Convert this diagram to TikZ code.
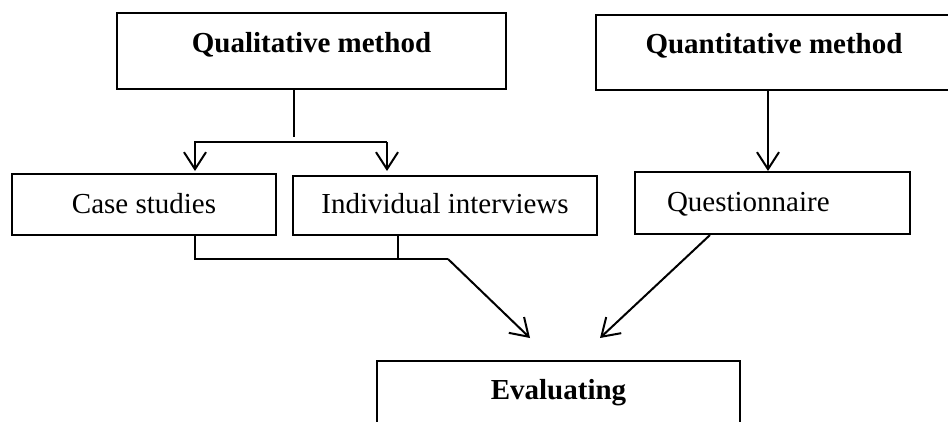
\documentclass[tikz,border=0pt]{standalone}
\usepackage{fontspec}
\setmainfont{Liberation Serif}
\usetikzlibrary{arrows.meta}
\tikzset{
  box/.style={draw, line width=2pt, inner xsep=0pt, inner ysep=0pt, font=\fontsize{29}{34}\selectfont},
  arr/.style={line width=2pt, -{Straight Barb[length=17pt,width=22pt,line width=2pt]}},
  ln/.style={line width=1.8pt}
}
\begin{document}
\begin{tikzpicture}[x=1pt,y=-1pt]
\useasboundingbox (0,0) rectangle (948,421);
\clip (0,0) rectangle (948,421);
\fill[white] (0,0) rectangle (948,421);
% boxes
\node[box, minimum width=389pt, text height=39pt, text depth=37pt] (qual) at (311.5,51) {\bfseries Qualitative method};
\node[box, minimum width=356pt, text height=38.5pt, text depth=37pt] (quant) at (774,52.25) {\bfseries Quantitative method};
\node[box, minimum width=264pt, text height=39pt, text depth=22pt] (case) at (144,204.5) {Case studies};
\node[box, minimum width=304pt, text height=37pt, text depth=22pt] (indiv) at (445,205.5) {Individual interviews};
\node[box, inner xsep=32pt, text width=211pt, align=left, text height=39pt, text depth=23pt] (quest) at (772.5,203) {Questionnaire};
\node[box, minimum width=363pt, text height=38pt, text depth=41pt] (eval) at (558.5,400.5) {\bfseries Evaluating};
% coordinates
\coordinate (qsplit) at (294,137);
\coordinate (qL) at (195,142);
\coordinate (qR) at (387,142);
\coordinate (tipCase) at (195,171);
\coordinate (tipIndiv) at (387,171);
\coordinate (bL) at (195,259);
\coordinate (bM) at (398,259);
\coordinate (bR) at (448,259);
\coordinate (tipEvalL) at (530,338);
\coordinate (tipEvalR) at (600,338);
\coordinate (qnSrc) at (768,90);
\coordinate (tipQuest) at (768,171);
\coordinate (questOut) at (710,234);
% connectors
\draw[ln] (qual.south -| qsplit) -- (qsplit);
\draw[arr] (qR) -- (qL) -- (tipCase);
\draw[arr] (qR) -- (tipIndiv);
\draw[ln] (case.south -| bL) -- (bL) -- (bR);
\draw[ln] (indiv.south -| bM) -- (bM);
\draw[arr] (bR) -- (tipEvalL);
\draw[arr] (quant.south -| qnSrc) -- (tipQuest);
\draw[arr] (quest.south -| questOut) -- (tipEvalR);
\end{tikzpicture}
\end{document}
